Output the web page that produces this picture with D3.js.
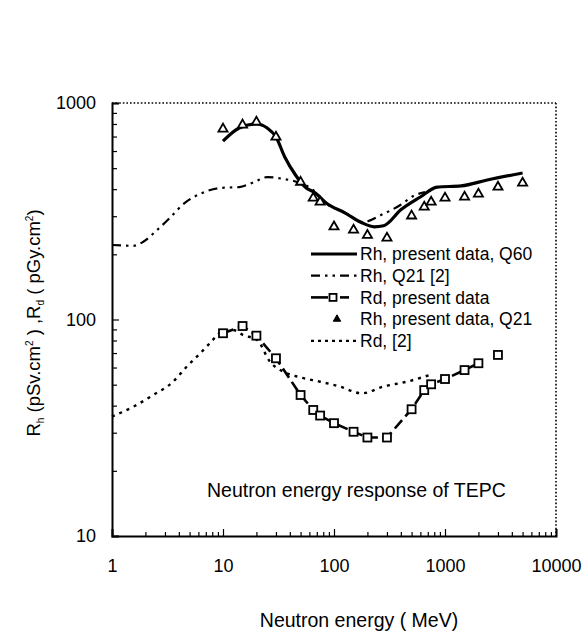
<!DOCTYPE html>
<html><head><meta charset="utf-8">
<script src="https://cdn.jsdelivr.net/npm/d3@7"></script>
<style>
body{margin:0;background:#fff;}
svg text{font-family:"Liberation Sans",Arial,Helvetica,sans-serif;fill:#000;}
</style></head>
<body><svg id="c" width="584" height="631"></svg>
<script>
// ---- data ----
const xTicks = [1, 10, 100, 1000, 10000];
const yTicks = [10, 100, 1000];
const legendLabels = ["Rh, present data, Q60", "Rh, Q21 [2]", "Rd, present data", "Rh, present data, Q21", "Rd, [2]"];

const rhQ60E = [10, 14, 20, 25, 30, 36, 45, 55, 68, 85, 125, 180, 230, 280, 400, 600, 850, 1400, 2400, 5000];
const rhQ60V = [667, 767, 800, 767, 697, 563, 465, 409, 384, 345, 311, 279, 268, 271, 321, 368, 409, 414, 441, 475];

const rhQ21refE = [1, 1.55, 1.9, 2.55, 3.3, 4.5, 6.2, 9.4, 14, 19, 25, 35, 47, 65, 84, 126, 183, 277, 396, 518, 660];
const rhQ21refV = [221, 219, 228, 259, 294, 345, 380, 405, 409, 431, 455, 446, 431, 396, 345, 311, 282, 307, 338, 372, 388];

const rhQ21E = [10, 15, 20, 30, 50, 65, 75, 100, 150, 200, 300, 500, 650, 750, 1000, 1500, 2000, 3000, 5000];
const rhQ21V = [759, 792, 817, 697, 431, 364, 349, 268, 259, 245, 238, 301, 331, 349, 364, 368, 380, 409, 427];

const rdE = [10, 15, 20, 30, 50, 65, 75, 100, 150, 200, 300, 500, 650, 750, 1000, 1500, 2000, 3000];
const rdV = [86.4, 93.3, 84.2, 66.2, 44.8, 38.2, 36.0, 33.2, 30.3, 28.5, 28.5, 38.5, 47.2, 50.2, 53.1, 58.4, 62.8, 68.6];

const rdRefE = [1, 1.55, 2.35, 3.55, 4.7, 6.2, 7.65, 9.4, 12.3, 15.2, 20.3, 26.5, 35, 49.5, 75, 113, 178, 279, 453, 735];
const rdRefV = [35.6, 39.5, 44.8, 51.6, 60.5, 69.6, 77.9, 86.6, 89.4, 84.7, 80.4, 63.8, 57.4, 54.1, 51.6, 49.0, 45.6, 49.0, 51.6, 55.5];

// ---- layout ----
const svg = d3.select("#c");
const L = 112, R = 556, T = 103, B = 536;
const x = d3.scaleLog().domain([1, 10000]).range([L, R]);
const y = d3.scaleLog().domain([10, 1000]).range([B, T]);

// frame: dotted top/right
svg.append("line").attr("x1", L).attr("x2", R).attr("y1", T).attr("y2", T)
  .attr("stroke", "#000").attr("stroke-width", 1.6).attr("stroke-dasharray", "1.6,2");
svg.append("line").attr("x1", R).attr("x2", R).attr("y1", T).attr("y2", B)
  .attr("stroke", "#000").attr("stroke-width", 1.6).attr("stroke-dasharray", "1.6,2");

// minor ticks
const xMinor = [];
for (let d = 1; d < 10000; d *= 10) for (let k = 2; k <= 9; k++) xMinor.push(d * k);
const yMinor = [];
for (let d = 10; d < 1000; d *= 10) for (let k = 2; k <= 9; k++) yMinor.push(d * k);

const gx = svg.append("g").attr("transform", `translate(0,${B})`)
  .call(d3.axisBottom(x).tickValues(xTicks).tickSize(-7).tickPadding(23).tickFormat(d3.format("d")));
svg.append("g").attr("transform", `translate(0,${B})`)
  .call(d3.axisBottom(x).tickValues(xMinor).tickSize(-4).tickFormat(""))
  .call(g => g.select(".domain").remove());
const gy = svg.append("g").attr("transform", `translate(${L},0)`)
  .call(d3.axisLeft(y).tickValues(yTicks).tickSize(-7).tickPadding(16).tickFormat(d3.format("d")));
svg.append("g").attr("transform", `translate(${L},0)`)
  .call(d3.axisLeft(y).tickValues(yMinor).tickSize(-5).tickFormat(""))
  .call(g => g.select(".domain").remove());

svg.selectAll(".domain").attr("stroke-width", 2).attr("stroke", "#000");
svg.selectAll(".tick line").attr("stroke-width", 1.2).attr("stroke", "#000");
gx.selectAll("text").attr("font-size", 18).style("font-family", "Liberation Sans, Arial, sans-serif");
gy.selectAll("text").attr("font-size", 18).style("font-family", "Liberation Sans, Arial, sans-serif");

// ---- series ----
const line = d3.line().x(d => x(d[0])).y(d => y(d[1])).curve(d3.curveMonotoneX);
const zip = (a, b) => a.map((v, i) => [v, b[i]]);

// Rd [2] dotted
svg.append("path").datum(zip(rdRefE, rdRefV)).attr("d", line)
  .attr("fill", "none").attr("stroke", "#000").attr("stroke-width", 2.4).attr("stroke-dasharray", "3,5");

// Rh Q21 [2] dash-dot-dot
svg.append("path").datum(zip(rhQ21refE, rhQ21refV)).attr("d", line)
  .attr("fill", "none").attr("stroke", "#000").attr("stroke-width", 2.2).attr("stroke-dasharray", "9,5,2.5,5,2.5,5");

// Rh Q60 solid
svg.append("path").datum(zip(rhQ60E, rhQ60V)).attr("d", line)
  .attr("fill", "none").attr("stroke", "#000").attr("stroke-width", 3.2);

// Rd present data: dashed line + squares
const rdPts = zip(rdE, rdV);
svg.append("path").datum(rdPts.slice(0, 17)).attr("d", d3.line().x(d => x(d[0])).y(d => y(d[1])))
  .attr("fill", "none").attr("stroke", "#000").attr("stroke-width", 2.6).attr("stroke-dasharray", "11,5");
svg.selectAll("rect.rd").data(rdPts).enter().append("rect").attr("class", "rd")
  .attr("x", d => x(d[0]) - 4).attr("y", d => y(d[1]) - 4).attr("width", 8).attr("height", 8)
  .attr("fill", "#fff").attr("stroke", "#000").attr("stroke-width", 1.8);

// Rh Q21 triangles
const tri = d3.symbol().type(d3.symbolTriangle).size(36);
svg.selectAll("path.tri").data(zip(rhQ21E, rhQ21V)).enter().append("path").attr("class", "tri")
  .attr("d", tri).attr("transform", d => `translate(${x(d[0])},${y(d[1])})`)
  .attr("fill", "#fff").attr("stroke", "#000").attr("stroke-width", 1.8);

// ---- legend ----
const lx0 = 311, lx1 = 357, ly0 = 254, lstep = 21.7;
const lg = svg.append("g");
legendLabels.forEach((t, i) => {
  lg.append("text").attr("x", 360).attr("y", ly0 + i * lstep).attr("dy", "0.35em")
    .attr("font-size", 17.5).text(t);
});
lg.append("line").attr("x1", lx0).attr("x2", lx1).attr("y1", ly0).attr("y2", ly0)
  .attr("stroke", "#000").attr("stroke-width", 3.2);
lg.append("line").attr("x1", lx0).attr("x2", lx1).attr("y1", ly0 + lstep).attr("y2", ly0 + lstep)
  .attr("stroke", "#000").attr("stroke-width", 2.2).attr("stroke-dasharray", "9,5,2.5,5,2.5,5");
lg.append("line").attr("x1", lx0).attr("x2", 328).attr("y1", ly0 + 2 * lstep).attr("y2", ly0 + 2 * lstep)
  .attr("stroke", "#000").attr("stroke-width", 2.6);
lg.append("line").attr("x1", 340).attr("x2", 349).attr("y1", ly0 + 2 * lstep).attr("y2", ly0 + 2 * lstep)
  .attr("stroke", "#000").attr("stroke-width", 2.6);
lg.append("rect").attr("x", 329.5).attr("y", ly0 + 2 * lstep - 3.5).attr("width", 7).attr("height", 7)
  .attr("fill", "#fff").attr("stroke", "#000").attr("stroke-width", 1.8);
lg.append("path").attr("d", d3.symbol().type(d3.symbolTriangle).size(24))
  .attr("transform", `translate(337,${ly0 + 3 * lstep})`).attr("fill", "#000").attr("stroke", "#000").attr("stroke-width", 1);
lg.append("line").attr("x1", lx0).attr("x2", lx1).attr("y1", ly0 + 4 * lstep).attr("y2", ly0 + 4 * lstep)
  .attr("stroke", "#000").attr("stroke-width", 2.2).attr("stroke-dasharray", "3,4");

// annotation
svg.append("text").attr("x", 207).attr("y", 490).attr("dy", "0.35em").attr("font-size", 19.5)
  .text("Neutron energy response of TEPC");

// axis titles
svg.append("text").attr("x", 359).attr("y", 620).attr("dy", "0.35em").attr("text-anchor", "middle")
  .attr("font-size", 19.5).text("Neutron energy ( MeV)");
const yt = svg.append("text").attr("transform", "translate(34,323) rotate(-90)")
  .attr("text-anchor", "middle").attr("dy", "0.35em").attr("font-size", 18.5);
yt.append("tspan").text("R");
yt.append("tspan").attr("font-size", 10).attr("dy", "4").text("h");
yt.append("tspan").attr("dy", "-4").text(" (pSv.cm");
yt.append("tspan").attr("font-size", 10).attr("dy", "-7").text("2");
yt.append("tspan").attr("dy", "7").text(" ) ,R");
yt.append("tspan").attr("font-size", 10).attr("dy", "4").text("d");
yt.append("tspan").attr("dy", "-4").text(" ( pGy.cm");
yt.append("tspan").attr("font-size", 10).attr("dy", "-7").text("2");
yt.append("tspan").attr("dy", "7").text(")");
</script></body></html>
